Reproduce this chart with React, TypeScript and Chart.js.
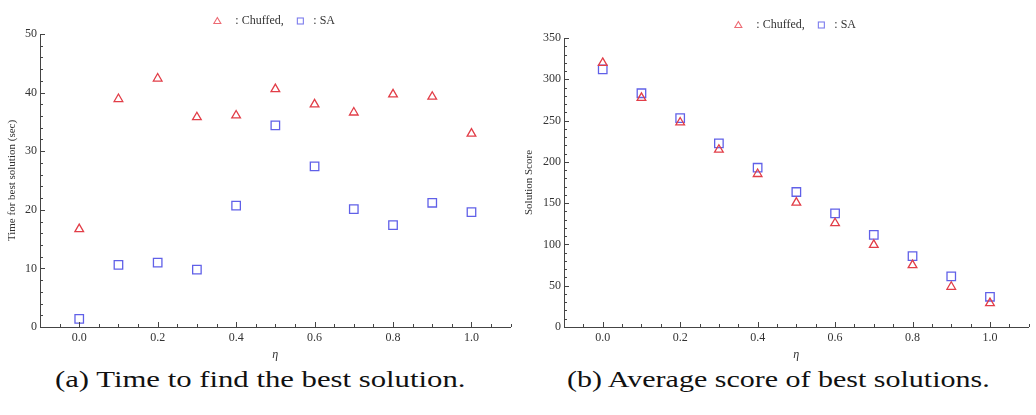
import React, { useEffect, useRef } from "react";
import { Chart, registerables } from "chart.js";

Chart.register(...registerables);

// η values shared by both panels
const etaValues = [0.0, 0.1, 0.2, 0.3, 0.4, 0.5, 0.6, 0.7, 0.8, 0.9, 1.0];

// (a) time to best solution, seconds
const chuffedTime = [16.7, 38.9, 42.4, 35.8, 36.1, 40.6, 38.0, 36.6, 39.7, 39.3, 33.0];
const saTime = [1.4, 10.6, 11.0, 9.8, 20.7, 34.4, 27.4, 20.1, 17.4, 21.2, 19.6];

// (b) average score of best solutions
const chuffedScore = [319.8, 277.5, 247.7, 214.7, 185.3, 150.6, 125.7, 99.5, 74.9, 48.7, 29.0];
const saScore = [312.1, 283.1, 252.9, 222.3, 192.9, 163.5, 137.7, 111.6, 85.8, 61.2, 36.6];

// tick labels
const etaTicks = [0.0, 0.2, 0.4, 0.6, 0.8, 1.0];
const timeTicks = [0, 10, 20, 30, 40, 50];
const scoreTicks = [0, 50, 100, 150, 200, 250, 300, 350];

const RED = "rgba(226, 62, 72, 1)";
const BLUE = "rgba(96, 96, 232, 1)";
const AXIS = "#444444";
const TEXT = "#333333";
const SERIF = "'Liberation Serif', 'Times New Roman', serif";

type PanelProps = {
  chuffed: number[];
  sa: number[];
  yTicks: number[];
  yMax: number;
  yMinor: number;
  yTitle: string;
  yWidth: number;
  yTitlePad: number;
  top: number;
  right: number;
};

// inward axis ticks (major + minor) and the marker legend above the plot
const decorPlugin = (yMinor: number) => ({
  id: "decor",
  afterDraw(chart: any) {
    const { ctx, chartArea } = chart;
    const xs = chart.scales.x;
    const ys = chart.scales.y;
    ctx.save();
    ctx.strokeStyle = AXIS;
    ctx.lineWidth = 1;
    ctx.beginPath();
    for (let i = -2; i <= 22; i++) {
      const v = i * 0.05;
      const px = Math.round(xs.getPixelForValue(v)) + 0.5;
      const len = i % 4 === 0 ? 5 : 3;
      ctx.moveTo(px, chartArea.bottom);
      ctx.lineTo(px, chartArea.bottom - len);
    }
    const n = Math.round(ys.max / yMinor);
    for (let i = 0; i <= n; i++) {
      const v = i * yMinor;
      const py = Math.round(ys.getPixelForValue(v)) + 0.5;
      const len = i % 5 === 0 ? 5 : 3;
      ctx.moveTo(chartArea.left, py);
      ctx.lineTo(chartArea.left + len, py);
    }
    ctx.stroke();

    // legend
    const cx = (chartArea.left + chartArea.right) / 2;
    const cy = chartArea.top - 13;
    ctx.lineWidth = 1.1;
    ctx.strokeStyle = "rgba(235, 90, 100, 0.9)";
    const tx = cx - 58;
    ctx.beginPath();
    ctx.moveTo(tx, cy - 3.5);
    ctx.lineTo(tx + 3.5, cy + 2.5);
    ctx.lineTo(tx - 3.5, cy + 2.5);
    ctx.closePath();
    ctx.stroke();
    ctx.strokeStyle = "rgba(110, 110, 235, 0.9)";
    ctx.strokeRect(cx + 22, cy - 3, 6, 6);
    ctx.fillStyle = TEXT;
    ctx.font = `12px ${SERIF}`;
    ctx.textBaseline = "middle";
    ctx.textAlign = "left";
    ctx.fillText(": Chuffed,", cx - 40, cy);
    ctx.fillText(": SA", cx + 38, cy);
    ctx.restore();
  },
});

function Panel(props: PanelProps) {
  const ref = useRef<HTMLCanvasElement | null>(null);

  useEffect(() => {
    if (!ref.current) return;
    const chart = new Chart(ref.current, {
      type: "scatter",
      data: {
        datasets: [
          {
            label: "Chuffed",
            data: etaValues.map((x, i) => ({ x, y: props.chuffed[i] })),
            pointStyle: "triangle",
            pointRadius: 5,
            pointBorderWidth: 1.3,
            borderColor: RED,
            backgroundColor: "rgba(255,255,255,0)",
          },
          {
            label: "SA",
            data: etaValues.map((x, i) => ({ x, y: props.sa[i] })),
            pointStyle: "rect",
            pointRadius: 6,
            pointBorderWidth: 1.3,
            borderColor: BLUE,
            backgroundColor: "rgba(255,255,255,0)",
          },
        ],
      },
      options: {
        animation: false,
        responsive: false,
        devicePixelRatio: 1,
        layout: { padding: { top: props.top, right: props.right, left: 0, bottom: 0 } },
        plugins: {
          legend: { display: false },
          tooltip: { enabled: false },
        },
        scales: {
          x: {
            type: "linear",
            min: -0.1,
            max: 1.1,
            afterBuildTicks: (s: any) => {
              s.ticks = etaTicks.map((value) => ({ value }));
            },
            afterFit: (s: any) => {
              s.height = 38;
            },
            grid: { display: false, drawTicks: false },
            border: { display: true, color: AXIS, width: 1 },
            ticks: {
              padding: 4,
              color: TEXT,
              font: { family: SERIF, size: 12 },
              callback: (v: any) => Number(v).toFixed(1),
            },
            title: {
              display: true,
              text: "η",
              color: TEXT,
              font: { family: SERIF, size: 12, style: "italic" },
              padding: { top: 0, bottom: 3 },
            },
          },
          y: {
            type: "linear",
            min: 0,
            max: props.yMax,
            afterBuildTicks: (s: any) => {
              s.ticks = props.yTicks.map((value) => ({ value }));
            },
            afterFit: (s: any) => {
              s.width = props.yWidth;
            },
            grid: { display: false, drawTicks: false },
            border: { display: true, color: AXIS, width: 1 },
            ticks: {
              padding: 3,
              color: TEXT,
              font: { family: SERIF, size: 12 },
              callback: (v: any) => String(v),
            },
            title: {
              display: true,
              text: props.yTitle,
              color: TEXT,
              font: { family: SERIF, size: 11 },
              padding: { top: props.yTitlePad, bottom: 0 },
            },
          },
        },
      },
      plugins: [decorPlugin(props.yMinor)],
    });
    return () => chart.destroy();
  }, []);

  return <canvas ref={ref} width={518} height={365} style={{ display: "block" }} />;
}

const captionStyle: React.CSSProperties = {
  position: "absolute",
  top: 366,
  fontFamily: SERIF,
  fontSize: 24,
  color: "#111",
  whiteSpace: "nowrap",
  transformOrigin: "0 0",
};

export default function App() {
  return (
    <div
      style={{
        position: "absolute",
        left: 0,
        top: 0,
        width: 1036,
        height: 415,
        background: "#fff",
        overflow: "hidden",
      }}
    >
      <div style={{ position: "absolute", left: 0, top: 0 }}>
        <Panel
          chuffed={chuffedTime}
          sa={saTime}
          yTicks={timeTicks}
          yMax={50}
          yMinor={2}
          yTitle="Time for best solution (sec)"
          yWidth={40}
          yTitlePad={6}
          top={34}
          right={5}
        />
      </div>
      <div style={{ position: "absolute", left: 518, top: 0 }}>
        <Panel
          chuffed={chuffedScore}
          sa={saScore}
          yTicks={scoreTicks}
          yMax={350}
          yMinor={10}
          yTitle="Solution Score"
          yWidth={46}
          yTitlePad={5}
          top={38}
          right={7}
        />
      </div>
      <div style={{ ...captionStyle, left: 55, transform: "scaleX(1.28)" }}>
        (a) Time to find the best solution.
      </div>
      <div style={{ ...captionStyle, left: 567, transform: "scaleX(1.25)" }}>
        (b) Average score of best solutions.
      </div>
    </div>
  );
}
